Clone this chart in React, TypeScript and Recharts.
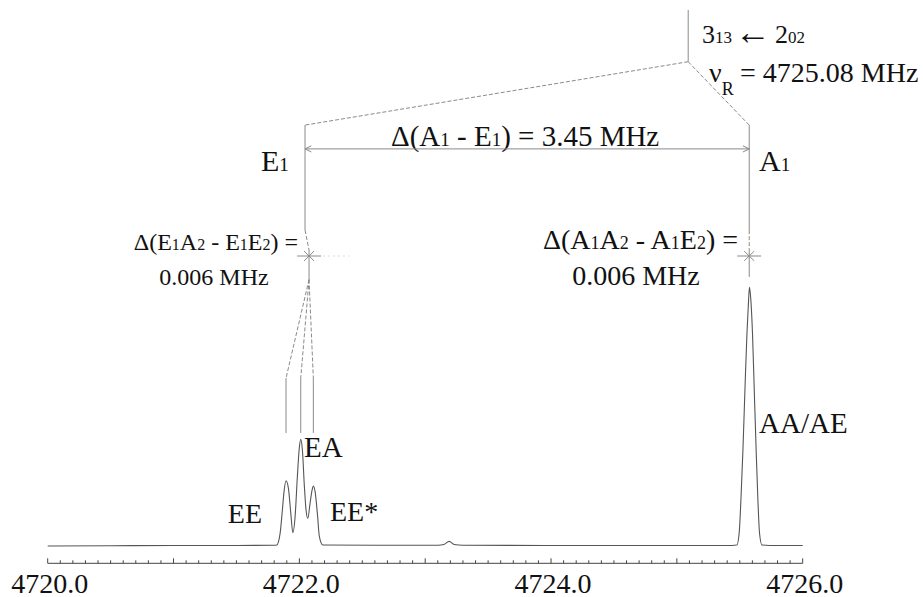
import React from 'react';
import { LineChart, Line, XAxis, YAxis, ReferenceLine, Customized } from 'recharts';

// ---- spectrum data ----
const frequencyMHz = [
  4720.0, 4720.5, 4721.0, 4721.5, 4721.8, 4721.82,
  4721.847, 4721.865, 4721.878, 4721.894, 4721.913, 4721.932, 4721.948,
  4721.966, 4721.984, 4721.998, 4722.011, 4722.024, 4722.04, 4722.053, 4722.067,
  4722.085, 4722.101, 4722.111, 4722.125, 4722.143, 4722.159, 4722.186,
  4722.6, 4723.1, 4723.15, 4723.19, 4723.23, 4723.3, 4724.0, 4724.5, 4725.0, 4725.4, 4725.477,
  4725.495, 4725.509, 4725.525, 4725.541, 4725.557, 4725.57, 4725.577,
  4725.588, 4725.601, 4725.615, 4725.63, 4725.644, 4725.657, 4725.676,
  4725.8, 4726.0,
];
const intensity = [
  0.0, 0.001, 0.002, 0.002, 0.003, 0.004,
  0.049, 0.139, 0.21, 0.252, 0.223, 0.126, 0.051,
  0.113, 0.268, 0.371, 0.412, 0.371, 0.229, 0.139, 0.107,
  0.165, 0.216, 0.232, 0.21, 0.126, 0.036, 0.004,
  0.003, 0.003, 0.006, 0.018, 0.006, 0.003, 0.002, 0.002, 0.002, 0.002, 0.004,
  0.049, 0.178, 0.371, 0.603, 0.822, 0.951, 1.0,
  0.951, 0.822, 0.603, 0.371, 0.178, 0.049, 0.004,
  0.002, 0.002,
];
const labeledTicks = [4720, 4722, 4724, 4726];
const tickLabels = ['4720.0', '4722.0', '4724.0', '4726.0'];

// transition frequencies used for annotation leaders
const nuR = 4725.09;
const e1Freq = 4722.045;
const e1Cross = 4722.077;
const a1Freq = 4725.575;
const eeFreq = 4721.894;
const eaFreq = 4722.011;
const eeStarFreq = 4722.111;

const data = frequencyMHz.map((f, i) => ({ f, v: intensity[i] }));

const minorTicks: number[] = [];
for (let i = 0; i <= 60; i++) minorTicks.push(Math.round((4720 + i * 0.1) * 10) / 10);

const W = 923;
const H = 597;
const FONT = 'Liberation Serif, DejaVu Serif, serif';
const GRAY = '#8a8a8a';

type Seg = { x1: number; y1: number; x2: number; y2: number; dash?: boolean; faint?: boolean };

const segments: Seg[] = [
  // top leader
  { x1: nuR, y1: 2.072, x2: nuR, y2: 1.872 },
  { x1: nuR, y1: 1.872, x2: e1Freq, y2: 1.627, dash: true },
  { x1: nuR, y1: 1.872, x2: a1Freq, y2: 1.627, dash: true },
  // E1 vertical
  { x1: e1Freq, y1: 1.627, x2: e1Freq, y2: 1.221 },
  { x1: e1Freq, y1: 1.221, x2: e1Cross, y2: 1.144, dash: true },
  { x1: e1Cross, y1: 1.144, x2: e1Cross, y2: 1.03 },
  // A1 vertical
  { x1: a1Freq, y1: 1.627, x2: a1Freq, y2: 1.221 },
  { x1: a1Freq, y1: 1.221, x2: a1Freq, y2: 1.144, dash: true },
  { x1: a1Freq, y1: 1.144, x2: a1Freq, y2: 1.04 },
  // arrow
  { x1: e1Freq, y1: 1.535, x2: a1Freq, y2: 1.535 },
  { x1: e1Freq, y1: 1.535, x2: e1Freq + 0.05, y2: 1.547 },
  { x1: e1Freq, y1: 1.535, x2: e1Freq + 0.05, y2: 1.523 },
  { x1: a1Freq, y1: 1.535, x2: a1Freq - 0.05, y2: 1.547 },
  { x1: a1Freq, y1: 1.535, x2: a1Freq - 0.05, y2: 1.523 },
  // crosses
  { x1: e1Cross - 0.095, y1: 1.121, x2: e1Cross + 0.095, y2: 1.121 },
  { x1: e1Cross - 0.04, y1: 1.14, x2: e1Cross + 0.04, y2: 1.102 },
  { x1: e1Cross - 0.04, y1: 1.102, x2: e1Cross + 0.04, y2: 1.14 },
  { x1: e1Cross + 0.11, y1: 1.121, x2: e1Cross + 0.32, y2: 1.121, dash: true, faint: true },
  { x1: a1Freq - 0.095, y1: 1.121, x2: a1Freq + 0.095, y2: 1.121 },
  { x1: a1Freq - 0.04, y1: 1.14, x2: a1Freq + 0.04, y2: 1.102 },
  { x1: a1Freq - 0.04, y1: 1.102, x2: a1Freq + 0.04, y2: 1.14 },
  // fan to the E components
  { x1: e1Cross, y1: 1.03, x2: eeFreq, y2: 0.649, dash: true },
  { x1: e1Cross, y1: 1.03, x2: eaFreq, y2: 0.649, dash: true },
  { x1: e1Cross, y1: 1.03, x2: eeStarFreq, y2: 0.649, dash: true },
  { x1: eeFreq, y1: 0.649, x2: eeFreq, y2: 0.437 },
  { x1: eaFreq, y1: 0.649, x2: eaFreq, y2: 0.437 },
  { x1: eeStarFreq, y1: 0.649, x2: eeStarFreq, y2: 0.437 },
];

const AxisTick = (props: any) => {
  const { x, y, payload } = props;
  const val = payload.value as number;
  const isMajor = Math.abs(val - Math.round(val)) < 1e-6;
  const idx = labeledTicks.findIndex((t) => Math.abs(t - val) < 1e-6);
  return (
    <g>
      <line x1={x} y1={y} x2={x} y2={y - (isMajor ? 5 : 3)} stroke="#444" strokeWidth={1} />
      {idx >= 0 && (
        <text x={x + 2} y={y + 29.5} textAnchor="middle" fontFamily={FONT} fontSize={28} fill="#111">
          {tickLabels[idx]}
        </text>
      )}
    </g>
  );
};

const Sub = ({ children, size = 18 }: { children: React.ReactNode; size?: number }) => (
  <tspan fontSize={size}>{children}</tspan>
);

const T = ({ x, y, size = 28, anchor = 'start', children }: any) => (
  <text x={x} y={y} textAnchor={anchor} fill="#111" fontFamily={FONT} fontSize={size}>
    {children}
  </text>
);

const Annotations = () => (
  <g>
    <T x={702} y={43} size={26}>
      3<Sub size={17}>13</Sub>
      <tspan x={735} fontSize={36} dy={1}>←</tspan>
      <tspan x={775} dy={-1}>2</tspan>
      <Sub size={17}>02</Sub>
    </T>
    <T x={709} y={82}>
      ν<tspan fontSize={18} dy={13}>R</tspan>
      <tspan x={740} dy={-13}>= 4725.08 MHz</tspan>
    </T>
    <T x={261} y={171} size={30}>
      E<Sub size={19}>1</Sub>
    </T>
    <T x={391} y={146} size={29}>
      Δ(A<Sub size={19}>1</Sub> - E<Sub size={19}>1</Sub>) = 3.45 MHz
    </T>
    <T x={759} y={171} size={30}>
      A<Sub size={19}>1</Sub>
    </T>
    <T x={298} y={250} size={24} anchor="end">
      Δ(E<Sub size={16}>1</Sub>A<Sub size={16}>2</Sub> - E<Sub size={16}>1</Sub>E<Sub size={16}>2</Sub>) =
    </T>
    <T x={214} y={285} size={24} anchor="middle">
      0.006 MHz
    </T>
    <T x={738} y={249} anchor="end">
      Δ(A<Sub>1</Sub>A<Sub>2</Sub> - A<Sub>1</Sub>E<Sub>2</Sub>) =
    </T>
    <T x={636} y={285} anchor="middle">
      0.006 MHz
    </T>
    <T x={304} y={457} size={29}>EA</T>
    <T x={262} y={523} anchor="end">EE</T>
    <T x={330} y={521}>EE*</T>
    <T x={759} y={433} size={29}>AA/AE</T>
  </g>
);

export default function App() {
  return (
    <div style={{ position: 'absolute', left: 0, top: 0, width: W, height: H, background: '#fff' }}>
      <LineChart
        width={W}
        height={H}
        data={data}
        margin={{ top: 0, right: 120.3, bottom: 0, left: 47.7 }}
      >
        <XAxis
          type="number"
          dataKey="f"
          domain={[4720, 4726]}
          ticks={minorTicks}
          interval={0}
          tickSize={0}
          tickMargin={0}
          tickLine={false}
          axisLine={{ stroke: '#444', strokeWidth: 1 }}
          tick={<AxisTick />}
          height={33.7}
        />
        <YAxis hide type="number" domain={[-0.0669, 2.1106]} allowDataOverflow />
        {segments.map((s, i) => (
          <ReferenceLine
            key={i}
            segment={[
              { x: s.x1, y: s.y1 },
              { x: s.x2, y: s.y2 },
            ]}
            stroke={s.faint ? '#d8d8d8' : GRAY}
            strokeWidth={1}
            strokeDasharray={s.dash ? (s.faint ? '2 3' : '4 2') : undefined}
            ifOverflow="visible"
          />
        ))}
        <Line
          type="monotone"
          dataKey="v"
          stroke="#555"
          strokeWidth={1.1}
          dot={false}
          isAnimationActive={false}
        />
        <Customized component={<Annotations />} />
      </LineChart>
    </div>
  );
}
